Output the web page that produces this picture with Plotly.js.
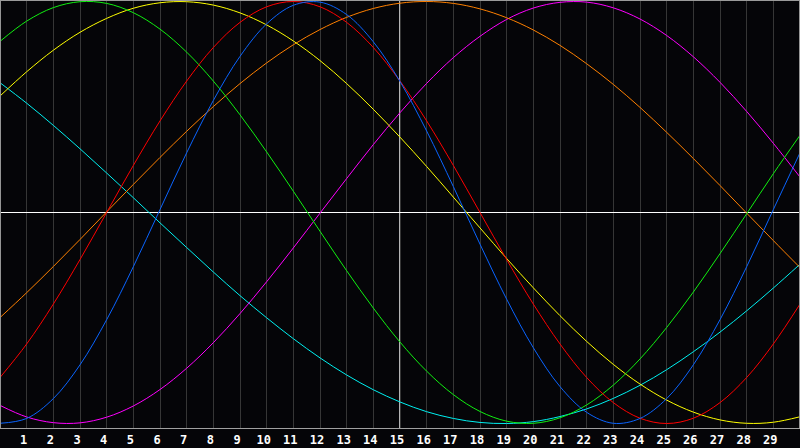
<!DOCTYPE html>
<html>
<head>
<meta charset="utf-8">
<script src="https://cdn.plot.ly/plotly-3.0.1.min.js"></script>
<style>
html,body{margin:0;padding:0;background:#050508;}
#chart{width:800px;height:448px;}
</style>
</head>
<body>
<div id="chart"></div>
<script>
// Day positions (x) and tick labels
var days = [0,1,2,3,4,5,6,7,8,9,10,11,12,13,14,15,16,17,18,19,20,21,22,23,24,25,26,27,28,29,30];
var tickDays = [1,2,3,4,5,6,7,8,9,10,11,12,13,14,15,16,17,18,19,20,21,22,23,24,25,26,27,28,29];
var tickLabels = ['1','2','3','4','5','6','7','8','9','10','11','12','13','14','15','16','17','18','19','20','21','22','23','24','25','26','27','28','29'];
var markerDay = 15;

// Curve values (percent)
var blueVals = [-99.9,-97.6,-88.2,-72.2,-50.8,-25.7,1.4,28.3,53.1,74.0,89.4,98.2,99.7,93.8,80.9,62.1,38.6,12.3,-15.0,-41.1,-64.1,-82.5,-94.7,-99.9,-97.6,-88.2,-72.2,-50.8,-25.7,1.4,28.3];
var redVals = [-78.2,-62.3,-43.4,-22.3,0,22.3,43.4,62.3,78.2,90.1,97.5,100,97.5,90.1,78.2,62.3,43.4,22.3,0,-22.3,-43.4,-62.3,-78.2,-90.1,-97.5,-100,-97.5,-90.1,-78.2,-62.3,-43.4];
var greenVals = [81.1,90.7,97.1,99.9,99.1,94.7,86.9,76.0,62.3,46.3,28.7,10.1,-8.9,-27.6,-45.3,-61.4,-75.2,-86.3,-94.3,-98.9,-99.9,-97.3,-91.2,-81.8,-69.4,-54.5,-37.7,-19.5,-0.6,18.4,36.6];
var yellowVals = [55.2,66.7,76.9,85.4,92.0,96.8,99.4,99.9,98.3,94.6,88.9,81.3,72.0,61.1,48.9,35.7,21.8,7.3,-7.3,-21.8,-35.7,-48.9,-61.1,-72.0,-81.3,-88.9,-94.6,-98.3,-99.9,-99.4,-96.8];
var magentaVals = [-91.4,-96.9,-99.6,-99.7,-97.0,-91.7,-83.9,-73.8,-61.7,-47.9,-32.8,-16.8,-0.3,16.1,32.2,47.3,61.2,73.4,83.5,91.5,96.9,99.6,99.7,97.0,91.7,83.9,73.8,61.7,47.9,32.8,16.8];
var cyanVals = [61.5,51.8,41.3,30.2,18.7,7.0,-4.9,-16.6,-28.2,-39.4,-49.9,-59.8,-68.9,-77.0,-84.0,-89.8,-94.4,-97.6,-99.5,-100.0,-99.1,-96.7,-93.1,-88.1,-81.9,-74.5,-66.0,-56.7,-46.6,-35.8,-24.5];
var orangeVals = [-49.8,-38.0,-25.6,-12.8,0.3,13.3,26.1,38.5,50.2,61.1,70.9,79.5,86.7,92.5,96.7,99.2,100.0,99.1,96.5,92.3,86.5,79.2,70.5,60.7,49.8,38.0,25.6,12.8,-0.3,-13.3,-26.1];

var series = [
  {y: cyanVals, color: '#00f0f0'},
  {y: magentaVals, color: '#ff00ff'},
  {y: orangeVals, color: '#ff8000'},
  {y: yellowVals, color: '#ffff00'},
  {y: greenVals, color: '#10f010'},
  {y: redVals, color: '#ff0000'},
  {y: blueVals, color: '#0a64ff'}
];

var traces = series.map(function(s){
  return {
    x: days, y: s.y, type: 'scatter', mode: 'lines',
    line: {color: s.color, width: 1, shape: 'spline', smoothing: 1},
    hoverinfo: 'skip', showlegend: false
  };
});

var layout = {
  width: 800, height: 448,
  margin: {l: 0, r: 0, t: 0, b: 20, pad: 0},
  paper_bgcolor: '#050508',
  plot_bgcolor: '#050508',
  showlegend: false,
  xaxis: {
    range: [0, 30],
    tickmode: 'array', tickvals: tickDays, ticktext: tickLabels,
    showgrid: true, gridcolor: '#363636', gridwidth: 1,
    zeroline: false,
    showline: true, linecolor: '#a0a0a0', linewidth: 1,
    ticks: '',
    ticklabelshift: -3,
    ticklabelstandoff: 1,
    tickfont: {family: 'DejaVu Sans Mono', size: 12, color: '#ffffff', weight: 'bold'},
    fixedrange: true
  },
  yaxis: {
    range: [-102.13, 100.71],
    showgrid: false,
    showticklabels: false,
    ticks: '',
    zeroline: true, zerolinecolor: '#ffffff', zerolinewidth: 1,
    showline: false,
    fixedrange: true
  },
  shapes: [
    {type: 'line', xref: 'x', yref: 'paper', x0: markerDay, x1: markerDay, y0: 0, y1: 1,
     line: {color: '#ffffff', width: 1.4}, layer: 'below'},
    {type: 'line', xref: 'paper', yref: 'paper', x0: 0.0006, x1: 0.0006, y0: 0, y1: 1,
     line: {color: '#9a9a9a', width: 1}},
    {type: 'line', xref: 'paper', yref: 'paper', x0: 0.9994, x1: 0.9994, y0: 0, y1: 1,
     line: {color: '#9a9a9a', width: 1}},
    {type: 'line', xref: 'paper', yref: 'paper', x0: 0, x1: 1, y0: 0.9988, y1: 0.9988,
     line: {color: '#9a9a9a', width: 1}}
  ]
};

Plotly.newPlot('chart', traces, layout, {displayModeBar: false, staticPlot: true});
</script>
</body>
</html>
